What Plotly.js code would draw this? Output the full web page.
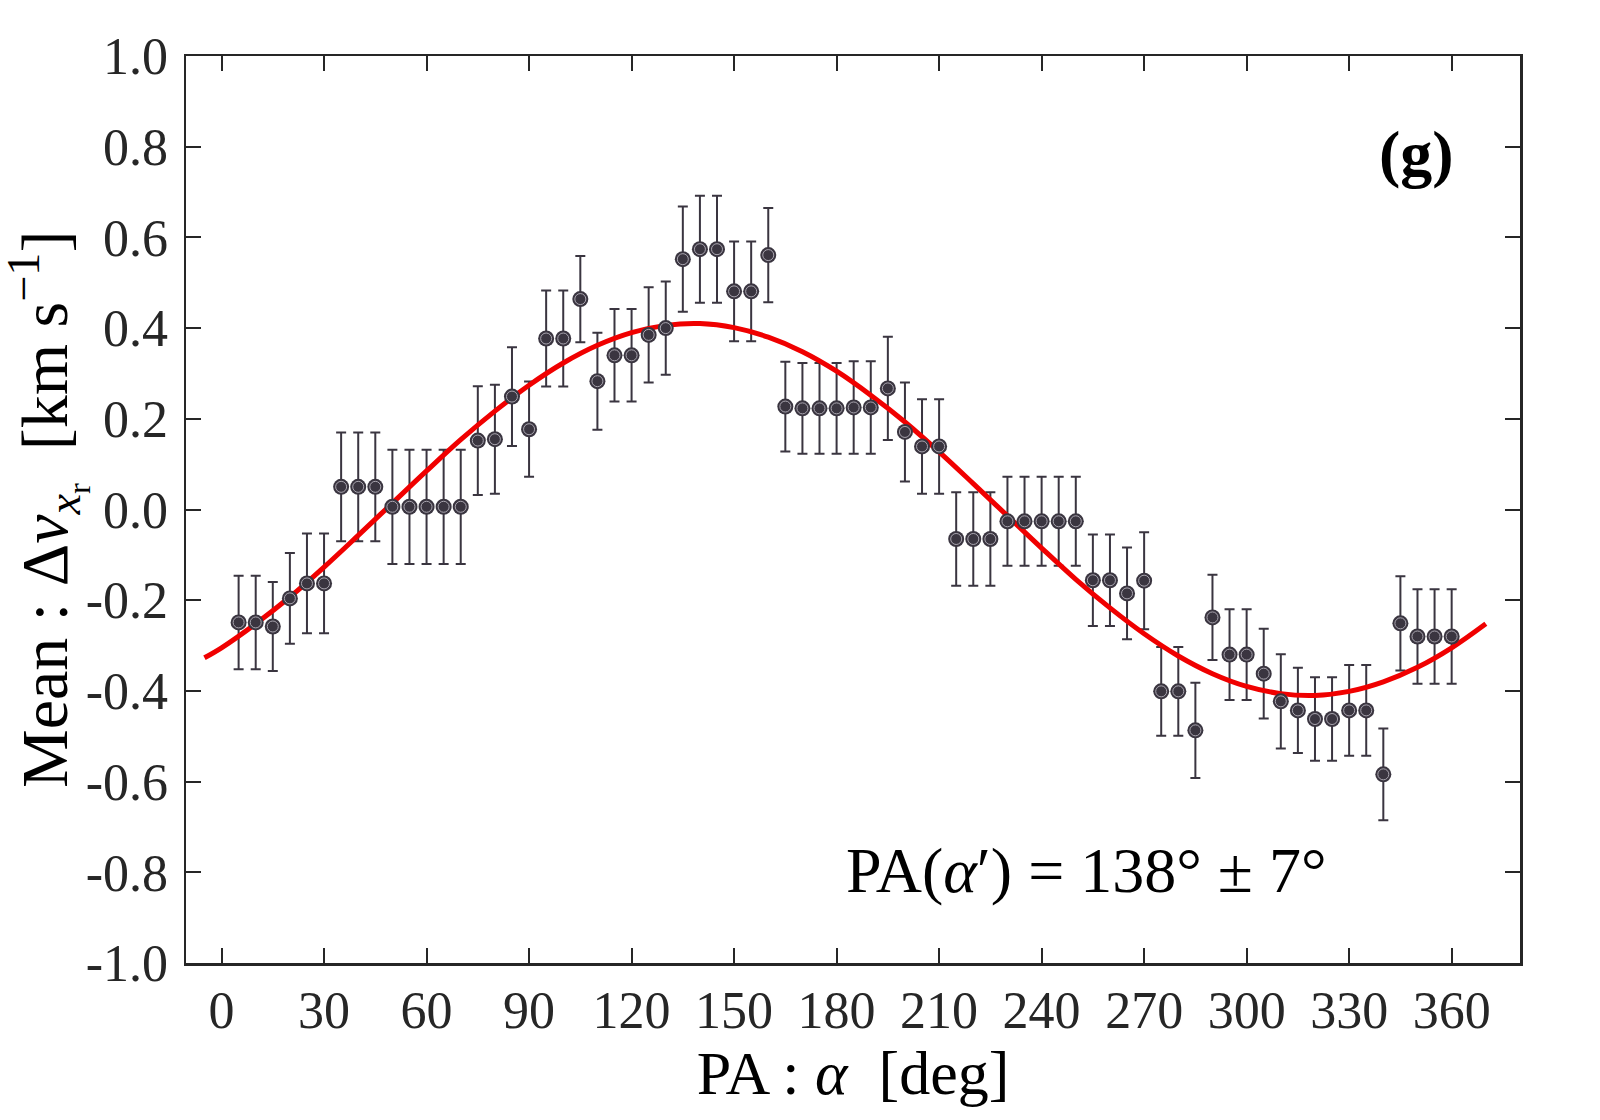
<!DOCTYPE html>
<html>
<head>
<meta charset="utf-8">
<script src="https://cdn.plot.ly/plotly-3.0.1.min.js"></script>
<style>
  html, body { margin: 0; padding: 0; background: #fff; }
  #chart { width: 1600px; height: 1120px; }
</style>
</head>
<body>
<div id="chart"></div>
<script>
// position angle of each bin [deg]
var pa = [5, 10, 15, 20, 25, 30, 35, 40, 45, 50, 55, 60, 65, 70, 75, 80, 85, 90,
  95, 100, 105, 110, 115, 120, 125, 130, 135, 140, 145, 150, 155, 160, 165, 170, 175, 180,
  185, 190, 195, 200, 205, 210, 215, 220, 225, 230, 235, 240, 245, 250, 255, 260, 265, 270,
  275, 280, 285, 290, 295, 300, 305, 310, 315, 320, 325, 330, 335, 340, 345, 350, 355, 360];

// mean velocity difference [km/s]
var meanDv = [-0.249, -0.249, -0.258, -0.196, -0.163, -0.163, 0.050, 0.050, 0.050, 0.006, 0.006, 0.006,
  0.006, 0.006, 0.152, 0.155, 0.249, 0.177, 0.377, 0.377, 0.464, 0.283, 0.340, 0.340,
  0.385, 0.400, 0.552, 0.574, 0.574, 0.481, 0.481, 0.561, 0.227, 0.223, 0.223, 0.223,
  0.225, 0.225, 0.267, 0.171, 0.139, 0.139, -0.065, -0.065, -0.065, -0.026, -0.026, -0.026,
  -0.026, -0.026, -0.156, -0.156, -0.185, -0.157, -0.401, -0.401, -0.487, -0.238, -0.320, -0.320,
  -0.362, -0.423, -0.443, -0.462, -0.462, -0.443, -0.443, -0.584, -0.251, -0.280, -0.280, -0.280];

// 1-sigma errors
var errDv = [0.103, 0.103, 0.098, 0.100, 0.110, 0.110, 0.120, 0.120, 0.120, 0.126, 0.126, 0.126,
  0.126, 0.126, 0.120, 0.120, 0.109, 0.105, 0.106, 0.106, 0.095, 0.107, 0.102, 0.102,
  0.105, 0.103, 0.116, 0.118, 0.118, 0.110, 0.110, 0.104, 0.099, 0.100, 0.100, 0.100,
  0.102, 0.102, 0.114, 0.109, 0.104, 0.104, 0.103, 0.103, 0.103, 0.098, 0.098, 0.098,
  0.098, 0.098, 0.101, 0.101, 0.101, 0.107, 0.098, 0.098, 0.105, 0.094, 0.100, 0.100,
  0.099, 0.104, 0.094, 0.092, 0.092, 0.100, 0.100, 0.101, 0.104, 0.104, 0.104, 0.104];

// fitted curve
var fitPa = [-5, 0, 10, 20, 30, 40, 50, 60, 70, 80, 90, 100, 110, 120, 130, 140, 150, 160, 170,
  180, 190, 200, 210, 220, 230, 240, 250, 260, 270, 280, 290, 300, 310, 320, 330, 340, 350, 360, 370];
var fitDv = [-0.327, -0.305, -0.252, -0.193, -0.127, -0.057, 0.014, 0.085, 0.154, 0.217, 0.274,
  0.323, 0.362, 0.390, 0.406, 0.410, 0.401, 0.380, 0.348, 0.305, 0.252, 0.193, 0.127, 0.057,
  -0.014, -0.085, -0.154, -0.217, -0.274, -0.323, -0.362, -0.390, -0.406, -0.410, -0.401,
  -0.380, -0.348, -0.305, -0.252];

var xTicks = [0, 30, 60, 90, 120, 150, 180, 210, 240, 270, 300, 330, 360];
var yTicks = [-1.0, -0.8, -0.6, -0.4, -0.2, 0.0, 0.2, 0.4, 0.6, 0.8, 1.0];
var yTickText = ['-1.0', '-0.8', '-0.6', '-0.4', '-0.2', '0.0', '0.2', '0.4', '0.6', '0.8', '1.0'];

var dark = '#3a3540';
var axisCol = '#262626';
var serif = 'Liberation Serif, Times New Roman, serif';

var bars = {
  x: pa, y: meanDv,
  type: 'scatter', mode: 'markers',
  marker: {size: 2, color: dark, opacity: 0},
  error_y: {type: 'data', array: errDv, visible: true, color: dark, thickness: 2, width: 5},
  hoverinfo: 'skip', showlegend: false
};

var fit = {
  x: fitPa, y: fitDv,
  type: 'scatter', mode: 'lines',
  line: {color: '#f00000', width: 5, shape: 'spline'},
  showlegend: false
};

var dotsOuter = {
  x: pa, y: meanDv,
  type: 'scatter', mode: 'markers',
  marker: {size: 16, color: dark, line: {width: 0}},
  showlegend: false
};

var dotsInner = {
  x: pa, y: meanDv,
  type: 'scatter', mode: 'markers',
  marker: {size: 11, color: dark, line: {width: 1, color: '#aaa6b0'}},
  showlegend: false
};

var axisCommon = {
  showgrid: false, zeroline: false,
  showline: true, linecolor: axisCol, linewidth: 2.5,
  mirror: 'ticks', ticks: 'inside', ticklen: 15, tickwidth: 2, tickcolor: axisCol,
  tickfont: {family: serif, size: 52, color: axisCol}
};

var layout = {
  width: 1600, height: 1120,
  paper_bgcolor: '#fff', plot_bgcolor: '#fff',
  margin: {l: 186, r: 80, t: 56, b: 157},
  xaxis: Object.assign({}, axisCommon, {
    range: [-10.4, 380],
    tickvals: xTicks,
    ticklabelstandoff: 0,
    title: {text: 'PA : <i>α</i>  [deg]', font: {family: serif, size: 62, color: '#000'}, standoff: 6}
  }),
  yaxis: Object.assign({}, axisCommon, {
    range: [-1, 1],
    tickvals: yTicks, ticktext: yTickText,
    ticklabelstandoff: 5
  }),
  annotations: [
    {
      // y-axis title, placed by hand so it can sit closer to the page edge
      xref: 'paper', yref: 'paper', x: -0.1425, y: 0.5,
      xanchor: 'left', yanchor: 'middle', textangle: -90, showarrow: false,
      text: 'Mean : Δ<i>v</i><sub><i>x</i><sub>r</sub></sub>  [km s<sup>−1</sup>]',
      font: {family: serif, size: 66, color: '#000'}
    },
    {
      xref: 'paper', yref: 'paper', x: 0.675, y: 0.1025,
      xanchor: 'center', yanchor: 'middle', showarrow: false,
      text: 'PA(<i>α</i>′) = 138° ± 7°',
      font: {family: serif, size: 64, color: '#000'}
    },
    {
      xref: 'paper', yref: 'paper', x: 0.9226, y: 0.892,
      xanchor: 'center', yanchor: 'middle', showarrow: false,
      text: '<b>(g)</b>',
      font: {family: serif, size: 64, color: '#000'}
    }
  ]
};

Plotly.newPlot('chart', [bars, fit, dotsOuter, dotsInner], layout, {displayModeBar: false, staticPlot: true});
</script>
</body>
</html>
